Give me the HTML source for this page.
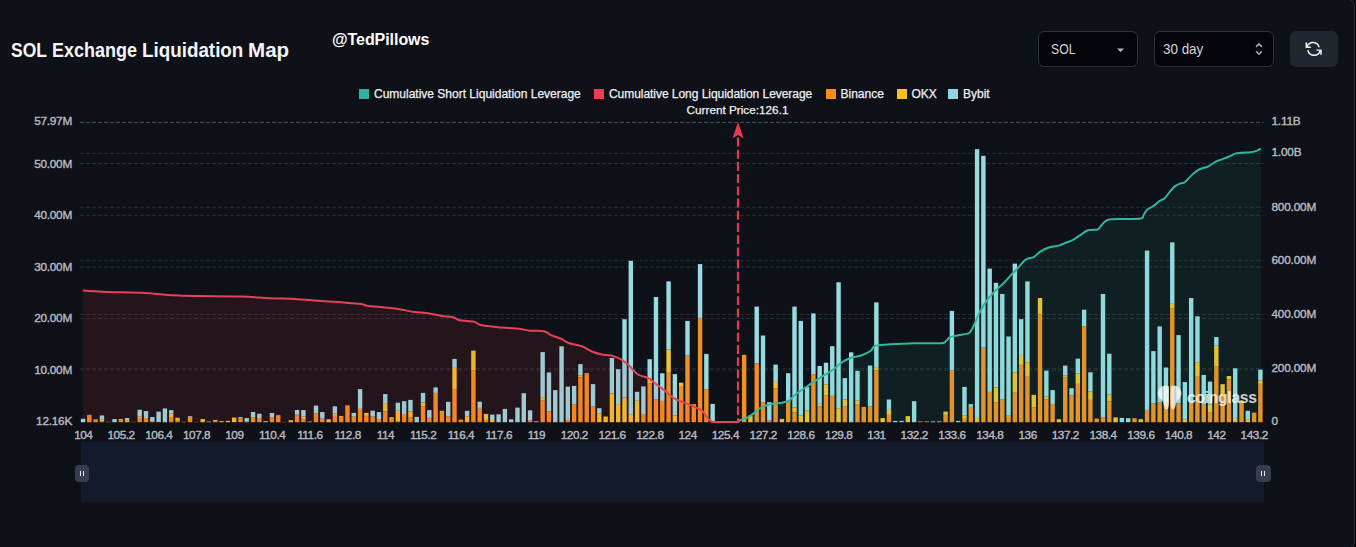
<!DOCTYPE html>
<html><head><meta charset="utf-8"><title>SOL Exchange Liquidation Map</title>
<style>
html,body{margin:0;padding:0;background:#0e1118;}
body{width:1356px;height:547px;overflow:hidden;position:relative;font-family:"Liberation Sans",sans-serif;color:#fff;}
#panel{position:absolute;left:-20px;top:-1.2px;width:1375.1px;height:549.6px;border:1.25px solid #2c303b;border-radius:7px 6.5px 4.5px 7px;box-sizing:border-box;background:#0e1118;}
#outer{position:absolute;left:1345px;top:0;width:11px;height:547px;background:#010105;}
.title{position:absolute;left:11px;top:38.2px;font-size:19.6px;font-weight:bold;line-height:24px;color:#f4f5f7;white-space:nowrap;}
.title span{position:absolute;top:0;transform-origin:0 50%;}
.handle{position:absolute;left:332px;top:30px;font-size:16px;font-weight:bold;line-height:20px;color:#fff;white-space:nowrap;letter-spacing:-0.06px;}
.sel{position:absolute;top:31px;height:36px;box-sizing:border-box;border:1px solid #2e323d;border-radius:6px;background:#04050a;color:#d3d6dd;font-size:14.2px;line-height:35px;}
.btn{position:absolute;left:1290px;top:31px;width:48px;height:36px;border-radius:6px;background:#22262f;}
.lg{position:absolute;top:87px;height:14px;line-height:14px;font-size:12px;color:#eef0f3;white-space:nowrap;-webkit-text-stroke:0.25px #eef0f3;}
.sq{position:absolute;top:89px;width:10px;height:10px;}
.xl{position:absolute;top:427.8px;width:60px;text-align:center;font-size:11.8px;line-height:15px;color:#b6b9c0;-webkit-text-stroke:0.4px #b6b9c0;letter-spacing:-0.45px;}
.yl{position:absolute;left:0;width:72px;text-align:right;font-size:11.8px;line-height:15px;color:#b6b9c0;-webkit-text-stroke:0.4px #b6b9c0;letter-spacing:-0.25px;}
.yr{position:absolute;left:1271.5px;text-align:left;font-size:11.8px;line-height:15px;color:#b6b9c0;-webkit-text-stroke:0.4px #b6b9c0;letter-spacing:-0.2px;}
.cp{position:absolute;left:637.5px;width:200px;top:103px;text-align:center;font-size:11.75px;line-height:14px;color:#eef0f3;-webkit-text-stroke:0.25px #eef0f3;}
.slider{position:absolute;left:81px;top:442px;width:1183px;height:60px;background:#121a2c;}
.hd{position:absolute;top:464.5px;width:14.5px;height:17px;border-radius:4px;background:#383d50;}
.hd i{position:absolute;top:6px;width:1px;height:5px;background:#e8eaf0;}
.wm{position:absolute;left:1187px;top:387.8px;font-size:15.7px;line-height:20px;font-weight:bold;color:rgba(255,255,255,0.8);letter-spacing:-0.3px;}
</style></head><body>
<div id="outer"></div><div id="panel"></div>
<svg width="1356" height="547" viewBox="0 0 1356 547" style="position:absolute;left:0;top:0"><line x1="80" x2="1263.5" y1="153.4" y2="153.4" stroke="#242832" stroke-width="1" stroke-dasharray="4 2"/><line x1="80" x2="1263.5" y1="207.3" y2="207.3" stroke="#242832" stroke-width="1" stroke-dasharray="4 2"/><line x1="80" x2="1263.5" y1="260.6" y2="260.6" stroke="#242832" stroke-width="1" stroke-dasharray="4 2"/><line x1="80" x2="1263.5" y1="314.5" y2="314.5" stroke="#242832" stroke-width="1" stroke-dasharray="4 2"/><line x1="80" x2="1263.5" y1="368.4" y2="368.4" stroke="#242832" stroke-width="1" stroke-dasharray="4 2"/><line x1="80" x2="1263.5" y1="122.4" y2="122.4" stroke="#4e525c" stroke-width="1" stroke-dasharray="4 2"/><line x1="80" x2="1263.5" y1="163.5" y2="163.5" stroke="#292d37" stroke-width="1" stroke-dasharray="4 2"/><line x1="80" x2="1263.5" y1="215.3" y2="215.3" stroke="#292d37" stroke-width="1" stroke-dasharray="4 2"/><line x1="80" x2="1263.5" y1="266.9" y2="266.9" stroke="#292d37" stroke-width="1" stroke-dasharray="4 2"/><line x1="80" x2="1263.5" y1="318.5" y2="318.5" stroke="#292d37" stroke-width="1" stroke-dasharray="4 2"/><line x1="80" x2="1263.5" y1="370.1" y2="370.1" stroke="#292d37" stroke-width="1" stroke-dasharray="4 2"/><rect x="80.85" y="418.75" width="4.4" height="3.45" fill="#97dce2"/><rect x="87.15" y="414.85" width="4.4" height="7.35" fill="#f39022"/><rect x="93.44" y="419.35" width="4.4" height="2.85" fill="#f39022"/><rect x="99.74" y="421.35" width="4.4" height="0.85" fill="#f39022"/><rect x="99.74" y="419.85" width="4.4" height="1.50" fill="#f3c42c"/><rect x="99.74" y="415.45" width="4.4" height="4.40" fill="#97dce2"/><rect x="106.03" y="421.85" width="4.4" height="0.35" fill="#f39022"/><rect x="112.33" y="419.05" width="4.4" height="3.15" fill="#97dce2"/><rect x="118.63" y="420.35" width="4.4" height="1.85" fill="#f39022"/><rect x="118.63" y="419.05" width="4.4" height="1.30" fill="#f3c42c"/><rect x="124.92" y="420.35" width="4.4" height="1.85" fill="#f3c42c"/><rect x="124.92" y="418.05" width="4.4" height="2.30" fill="#97dce2"/><rect x="131.22" y="421.95" width="4.4" height="0.25" fill="#f39022"/><rect x="137.51" y="418.75" width="4.4" height="3.45" fill="#f39022"/><rect x="137.51" y="416.65" width="4.4" height="2.10" fill="#f3c42c"/><rect x="137.51" y="409.75" width="4.4" height="6.90" fill="#97dce2"/><rect x="143.81" y="418.05" width="4.4" height="4.15" fill="#f39022"/><rect x="143.81" y="411.05" width="4.4" height="7.00" fill="#97dce2"/><rect x="150.11" y="421.35" width="4.4" height="0.85" fill="#f3c42c"/><rect x="150.11" y="417.05" width="4.4" height="4.30" fill="#97dce2"/><rect x="156.40" y="421.85" width="4.4" height="0.35" fill="#f3c42c"/><rect x="156.40" y="411.65" width="4.4" height="10.20" fill="#97dce2"/><rect x="162.70" y="408.45" width="4.4" height="13.75" fill="#97dce2"/><rect x="168.99" y="417.05" width="4.4" height="5.15" fill="#f39022"/><rect x="168.99" y="413.75" width="4.4" height="3.30" fill="#f3c42c"/><rect x="168.99" y="410.15" width="4.4" height="3.60" fill="#97dce2"/><rect x="175.29" y="420.85" width="4.4" height="1.35" fill="#f39022"/><rect x="175.29" y="417.75" width="4.4" height="3.10" fill="#f3c42c"/><rect x="181.59" y="421.85" width="4.4" height="0.35" fill="#f3c42c"/><rect x="187.88" y="417.85" width="4.4" height="4.35" fill="#f39022"/><rect x="187.88" y="416.85" width="4.4" height="1.00" fill="#f3c42c"/><rect x="187.88" y="416.15" width="4.4" height="0.70" fill="#97dce2"/><rect x="194.18" y="421.95" width="4.4" height="0.25" fill="#f39022"/><rect x="200.47" y="419.05" width="4.4" height="3.15" fill="#f3c42c"/><rect x="206.77" y="421.55" width="4.4" height="0.65" fill="#97dce2"/><rect x="213.07" y="420.95" width="4.4" height="1.25" fill="#f39022"/><rect x="213.07" y="419.95" width="4.4" height="1.00" fill="#f3c42c"/><rect x="219.36" y="421.15" width="4.4" height="1.05" fill="#f3c42c"/><rect x="225.66" y="420.85" width="4.4" height="1.35" fill="#f3c42c"/><rect x="231.95" y="417.55" width="4.4" height="4.65" fill="#f3c42c"/><rect x="238.25" y="418.35" width="4.4" height="3.85" fill="#f39022"/><rect x="238.25" y="417.05" width="4.4" height="1.30" fill="#97dce2"/><rect x="244.55" y="421.35" width="4.4" height="0.85" fill="#f3c42c"/><rect x="244.55" y="418.05" width="4.4" height="3.30" fill="#97dce2"/><rect x="250.84" y="417.55" width="4.4" height="4.65" fill="#f39022"/><rect x="250.84" y="411.95" width="4.4" height="5.60" fill="#97dce2"/><rect x="257.14" y="418.05" width="4.4" height="4.15" fill="#f39022"/><rect x="257.14" y="413.75" width="4.4" height="4.30" fill="#97dce2"/><rect x="263.43" y="421.15" width="4.4" height="1.05" fill="#f3c42c"/><rect x="269.73" y="417.55" width="4.4" height="4.65" fill="#f39022"/><rect x="269.73" y="412.95" width="4.4" height="4.60" fill="#97dce2"/><rect x="276.03" y="415.15" width="4.4" height="7.05" fill="#f39022"/><rect x="282.32" y="421.95" width="4.4" height="0.25" fill="#f39022"/><rect x="288.62" y="420.25" width="4.4" height="1.95" fill="#f3c42c"/><rect x="294.91" y="415.65" width="4.4" height="6.55" fill="#f39022"/><rect x="294.91" y="414.25" width="4.4" height="1.40" fill="#f3c42c"/><rect x="294.91" y="409.95" width="4.4" height="4.30" fill="#97dce2"/><rect x="301.21" y="419.35" width="4.4" height="2.85" fill="#f39022"/><rect x="301.21" y="416.55" width="4.4" height="2.80" fill="#f3c42c"/><rect x="301.21" y="410.05" width="4.4" height="6.50" fill="#97dce2"/><rect x="307.51" y="421.55" width="4.4" height="0.65" fill="#97dce2"/><rect x="313.80" y="413.25" width="4.4" height="8.95" fill="#f39022"/><rect x="313.80" y="405.55" width="4.4" height="7.70" fill="#97dce2"/><rect x="320.10" y="418.55" width="4.4" height="3.65" fill="#f39022"/><rect x="320.10" y="412.05" width="4.4" height="6.50" fill="#97dce2"/><rect x="326.39" y="419.25" width="4.4" height="2.95" fill="#f3c42c"/><rect x="332.69" y="415.90" width="4.4" height="6.30" fill="#f39022"/><rect x="332.69" y="413.30" width="4.4" height="2.60" fill="#f3c42c"/><rect x="332.69" y="406.30" width="4.4" height="7.00" fill="#97dce2"/><rect x="338.99" y="416.90" width="4.4" height="5.30" fill="#f39022"/><rect x="338.99" y="415.90" width="4.4" height="1.00" fill="#f3c42c"/><rect x="345.28" y="405.30" width="4.4" height="16.90" fill="#f39022"/><rect x="351.58" y="417.80" width="4.4" height="4.40" fill="#f39022"/><rect x="351.58" y="416.50" width="4.4" height="1.30" fill="#f3c42c"/><rect x="351.58" y="412.90" width="4.4" height="3.60" fill="#97dce2"/><rect x="357.87" y="408.90" width="4.4" height="13.30" fill="#f39022"/><rect x="357.87" y="389.10" width="4.4" height="19.80" fill="#97dce2"/><rect x="364.17" y="415.90" width="4.4" height="6.30" fill="#f39022"/><rect x="364.17" y="412.90" width="4.4" height="3.00" fill="#f3c42c"/><rect x="370.47" y="416.50" width="4.4" height="5.70" fill="#f39022"/><rect x="370.47" y="410.70" width="4.4" height="5.80" fill="#97dce2"/><rect x="376.76" y="419.10" width="4.4" height="3.10" fill="#f39022"/><rect x="376.76" y="412.10" width="4.4" height="7.00" fill="#97dce2"/><rect x="383.06" y="411.40" width="4.4" height="10.80" fill="#f39022"/><rect x="383.06" y="403.10" width="4.4" height="8.30" fill="#f3c42c"/><rect x="383.06" y="394.10" width="4.4" height="9.00" fill="#97dce2"/><rect x="389.35" y="418.90" width="4.4" height="3.30" fill="#f39022"/><rect x="389.35" y="417.20" width="4.4" height="1.70" fill="#f3c42c"/><rect x="395.65" y="421.40" width="4.4" height="0.80" fill="#f39022"/><rect x="395.65" y="410.80" width="4.4" height="10.60" fill="#f3c42c"/><rect x="395.65" y="402.70" width="4.4" height="8.10" fill="#97dce2"/><rect x="401.95" y="414.00" width="4.4" height="8.20" fill="#f39022"/><rect x="401.95" y="401.20" width="4.4" height="12.80" fill="#97dce2"/><rect x="408.24" y="417.20" width="4.4" height="5.00" fill="#f39022"/><rect x="408.24" y="411.40" width="4.4" height="5.80" fill="#f3c42c"/><rect x="408.24" y="399.90" width="4.4" height="11.50" fill="#97dce2"/><rect x="414.54" y="416.90" width="4.4" height="5.30" fill="#97dce2"/><rect x="420.83" y="406.30" width="4.4" height="15.90" fill="#f39022"/><rect x="420.83" y="402.50" width="4.4" height="3.80" fill="#f3c42c"/><rect x="420.83" y="392.90" width="4.4" height="9.60" fill="#97dce2"/><rect x="427.13" y="417.80" width="4.4" height="4.40" fill="#f39022"/><rect x="427.13" y="410.10" width="4.4" height="7.70" fill="#97dce2"/><rect x="433.43" y="392.90" width="4.4" height="29.30" fill="#f39022"/><rect x="433.43" y="387.40" width="4.4" height="5.50" fill="#97dce2"/><rect x="439.72" y="411.90" width="4.4" height="10.30" fill="#f39022"/><rect x="439.72" y="410.80" width="4.4" height="1.10" fill="#f3c42c"/><rect x="446.02" y="416.30" width="4.4" height="5.90" fill="#f39022"/><rect x="446.02" y="401.80" width="4.4" height="14.50" fill="#97dce2"/><rect x="452.31" y="389.00" width="4.4" height="33.20" fill="#f39022"/><rect x="452.31" y="367.90" width="4.4" height="21.10" fill="#f3c42c"/><rect x="452.31" y="358.90" width="4.4" height="9.00" fill="#97dce2"/><rect x="458.61" y="419.60" width="4.4" height="2.60" fill="#f39022"/><rect x="464.91" y="416.20" width="4.4" height="6.00" fill="#f3c42c"/><rect x="464.91" y="410.80" width="4.4" height="5.40" fill="#97dce2"/><rect x="471.20" y="370.30" width="4.4" height="51.90" fill="#f39022"/><rect x="471.20" y="350.60" width="4.4" height="19.70" fill="#f3c42c"/><rect x="477.50" y="407.90" width="4.4" height="14.30" fill="#f39022"/><rect x="477.50" y="401.70" width="4.4" height="6.20" fill="#97dce2"/><rect x="483.79" y="419.90" width="4.4" height="2.30" fill="#f39022"/><rect x="483.79" y="413.90" width="4.4" height="6.00" fill="#f3c42c"/><rect x="490.09" y="420.00" width="4.4" height="2.20" fill="#f3c42c"/><rect x="490.09" y="414.60" width="4.4" height="5.40" fill="#97dce2"/><rect x="496.39" y="414.30" width="4.4" height="7.90" fill="#97dce2"/><rect x="502.68" y="408.90" width="4.4" height="13.30" fill="#97dce2"/><rect x="508.98" y="419.30" width="4.4" height="2.90" fill="#97dce2"/><rect x="515.27" y="407.60" width="4.4" height="14.60" fill="#97dce2"/><rect x="521.57" y="393.20" width="4.4" height="29.00" fill="#97dce2"/><rect x="527.87" y="420.40" width="4.4" height="1.80" fill="#f39022"/><rect x="527.87" y="410.30" width="4.4" height="10.10" fill="#97dce2"/><rect x="534.16" y="421.10" width="4.4" height="1.10" fill="#f39022"/><rect x="540.46" y="400.60" width="4.4" height="21.60" fill="#f39022"/><rect x="540.46" y="397.80" width="4.4" height="2.80" fill="#f3c42c"/><rect x="540.46" y="352.10" width="4.4" height="45.70" fill="#97dce2"/><rect x="546.75" y="411.20" width="4.4" height="11.00" fill="#f39022"/><rect x="546.75" y="372.40" width="4.4" height="38.80" fill="#97dce2"/><rect x="553.05" y="390.10" width="4.4" height="32.10" fill="#97dce2"/><rect x="559.35" y="346.30" width="4.4" height="75.90" fill="#97dce2"/><rect x="565.64" y="419.90" width="4.4" height="2.30" fill="#f39022"/><rect x="565.64" y="386.60" width="4.4" height="33.30" fill="#97dce2"/><rect x="571.94" y="404.50" width="4.4" height="17.70" fill="#f39022"/><rect x="571.94" y="385.90" width="4.4" height="18.60" fill="#97dce2"/><rect x="578.23" y="377.30" width="4.4" height="44.90" fill="#f39022"/><rect x="578.23" y="375.40" width="4.4" height="1.90" fill="#f3c42c"/><rect x="578.23" y="364.10" width="4.4" height="11.30" fill="#97dce2"/><rect x="584.53" y="374.20" width="4.4" height="48.00" fill="#f39022"/><rect x="584.53" y="373.20" width="4.4" height="1.00" fill="#f3c42c"/><rect x="590.83" y="406.60" width="4.4" height="15.60" fill="#f39022"/><rect x="590.83" y="384.10" width="4.4" height="22.50" fill="#97dce2"/><rect x="597.12" y="413.20" width="4.4" height="9.00" fill="#f3c42c"/><rect x="597.12" y="408.20" width="4.4" height="5.00" fill="#97dce2"/><rect x="603.42" y="416.50" width="4.4" height="5.70" fill="#f3c42c"/><rect x="609.71" y="393.40" width="4.4" height="28.80" fill="#f3c42c"/><rect x="609.71" y="358.00" width="4.4" height="35.40" fill="#97dce2"/><rect x="616.01" y="404.10" width="4.4" height="18.10" fill="#f3c42c"/><rect x="616.01" y="369.20" width="4.4" height="34.90" fill="#97dce2"/><rect x="622.31" y="397.50" width="4.4" height="24.70" fill="#f3c42c"/><rect x="622.31" y="319.20" width="4.4" height="78.30" fill="#97dce2"/><rect x="628.60" y="414.80" width="4.4" height="7.40" fill="#f3c42c"/><rect x="628.60" y="260.80" width="4.4" height="154.00" fill="#97dce2"/><rect x="634.90" y="400.80" width="4.4" height="21.40" fill="#f3c42c"/><rect x="634.90" y="391.80" width="4.4" height="9.00" fill="#97dce2"/><rect x="641.19" y="414.00" width="4.4" height="8.20" fill="#f39022"/><rect x="641.19" y="386.40" width="4.4" height="27.60" fill="#97dce2"/><rect x="647.49" y="383.60" width="4.4" height="38.60" fill="#f39022"/><rect x="647.49" y="378.60" width="4.4" height="5.00" fill="#f3c42c"/><rect x="647.49" y="359.20" width="4.4" height="19.40" fill="#97dce2"/><rect x="653.79" y="399.20" width="4.4" height="23.00" fill="#f39022"/><rect x="653.79" y="297.00" width="4.4" height="102.20" fill="#97dce2"/><rect x="660.08" y="400.90" width="4.4" height="21.30" fill="#f39022"/><rect x="660.08" y="373.30" width="4.4" height="27.60" fill="#97dce2"/><rect x="666.38" y="372.00" width="4.4" height="50.20" fill="#f39022"/><rect x="666.38" y="349.50" width="4.4" height="22.50" fill="#f3c42c"/><rect x="666.38" y="281.40" width="4.4" height="68.10" fill="#97dce2"/><rect x="672.67" y="415.60" width="4.4" height="6.60" fill="#f3c42c"/><rect x="672.67" y="374.10" width="4.4" height="41.50" fill="#97dce2"/><rect x="678.97" y="386.00" width="4.4" height="36.20" fill="#f39022"/><rect x="678.97" y="382.70" width="4.4" height="3.30" fill="#f3c42c"/><rect x="685.27" y="355.60" width="4.4" height="66.60" fill="#f39022"/><rect x="685.27" y="320.90" width="4.4" height="34.70" fill="#97dce2"/><rect x="691.56" y="404.10" width="4.4" height="18.10" fill="#f39022"/><rect x="697.86" y="317.90" width="4.4" height="104.30" fill="#f39022"/><rect x="697.86" y="264.10" width="4.4" height="53.80" fill="#97dce2"/><rect x="704.15" y="389.30" width="4.4" height="32.90" fill="#f39022"/><rect x="704.15" y="353.90" width="4.4" height="35.40" fill="#97dce2"/><rect x="710.45" y="403.90" width="4.4" height="18.30" fill="#97dce2"/><rect x="741.93" y="354.80" width="4.4" height="67.40" fill="#f39022"/><rect x="748.23" y="415.60" width="4.4" height="6.60" fill="#f3c42c"/><rect x="754.52" y="363.30" width="4.4" height="58.90" fill="#f39022"/><rect x="754.52" y="306.60" width="4.4" height="56.70" fill="#97dce2"/><rect x="760.82" y="402.20" width="4.4" height="20.00" fill="#f39022"/><rect x="760.82" y="335.50" width="4.4" height="66.70" fill="#97dce2"/><rect x="767.11" y="420.40" width="4.4" height="1.80" fill="#f39022"/><rect x="767.11" y="402.20" width="4.4" height="18.20" fill="#97dce2"/><rect x="773.41" y="388.50" width="4.4" height="33.70" fill="#f39022"/><rect x="773.41" y="381.90" width="4.4" height="6.60" fill="#f3c42c"/><rect x="773.41" y="364.60" width="4.4" height="17.30" fill="#97dce2"/><rect x="779.71" y="418.90" width="4.4" height="3.30" fill="#f3c42c"/><rect x="786.00" y="402.50" width="4.4" height="19.70" fill="#f39022"/><rect x="786.00" y="373.20" width="4.4" height="29.30" fill="#97dce2"/><rect x="792.30" y="412.40" width="4.4" height="9.80" fill="#f39022"/><rect x="792.30" y="407.50" width="4.4" height="4.90" fill="#f3c42c"/><rect x="792.30" y="306.60" width="4.4" height="100.90" fill="#97dce2"/><rect x="798.59" y="415.60" width="4.4" height="6.60" fill="#f3c42c"/><rect x="798.59" y="320.90" width="4.4" height="94.70" fill="#97dce2"/><rect x="804.89" y="410.60" width="4.4" height="11.60" fill="#f3c42c"/><rect x="804.89" y="387.20" width="4.4" height="23.40" fill="#97dce2"/><rect x="811.19" y="374.20" width="4.4" height="48.00" fill="#f39022"/><rect x="811.19" y="313.40" width="4.4" height="60.80" fill="#97dce2"/><rect x="817.48" y="406.60" width="4.4" height="15.60" fill="#f39022"/><rect x="817.48" y="403.80" width="4.4" height="2.80" fill="#f3c42c"/><rect x="817.48" y="366.00" width="4.4" height="37.80" fill="#97dce2"/><rect x="823.78" y="395.10" width="4.4" height="27.10" fill="#f39022"/><rect x="823.78" y="384.40" width="4.4" height="10.70" fill="#f3c42c"/><rect x="823.78" y="362.70" width="4.4" height="21.70" fill="#97dce2"/><rect x="830.07" y="395.90" width="4.4" height="26.30" fill="#f39022"/><rect x="830.07" y="346.20" width="4.4" height="49.70" fill="#97dce2"/><rect x="836.37" y="408.20" width="4.4" height="14.00" fill="#f3c42c"/><rect x="836.37" y="282.30" width="4.4" height="125.90" fill="#97dce2"/><rect x="842.67" y="406.60" width="4.4" height="15.60" fill="#f39022"/><rect x="842.67" y="399.50" width="4.4" height="7.10" fill="#f3c42c"/><rect x="842.67" y="378.10" width="4.4" height="21.40" fill="#97dce2"/><rect x="848.96" y="352.30" width="4.4" height="69.90" fill="#97dce2"/><rect x="855.26" y="404.10" width="4.4" height="18.10" fill="#f39022"/><rect x="855.26" y="400.80" width="4.4" height="3.30" fill="#f3c42c"/><rect x="855.26" y="370.80" width="4.4" height="30.00" fill="#97dce2"/><rect x="861.55" y="406.90" width="4.4" height="15.30" fill="#f39022"/><rect x="867.85" y="406.60" width="4.4" height="15.60" fill="#f39022"/><rect x="867.85" y="365.50" width="4.4" height="41.10" fill="#97dce2"/><rect x="874.15" y="370.40" width="4.4" height="51.80" fill="#f39022"/><rect x="874.15" y="367.10" width="4.4" height="3.30" fill="#f3c42c"/><rect x="874.15" y="302.40" width="4.4" height="64.70" fill="#97dce2"/><rect x="880.44" y="418.10" width="4.4" height="4.10" fill="#f3c42c"/><rect x="886.74" y="414.90" width="4.4" height="7.30" fill="#f39022"/><rect x="886.74" y="409.90" width="4.4" height="5.00" fill="#f3c42c"/><rect x="886.74" y="399.50" width="4.4" height="10.40" fill="#97dce2"/><rect x="893.03" y="420.90" width="4.4" height="1.30" fill="#97dce2"/><rect x="899.33" y="420.90" width="4.4" height="1.30" fill="#97dce2"/><rect x="905.63" y="416.10" width="4.4" height="6.10" fill="#f3c42c"/><rect x="911.92" y="401.20" width="4.4" height="21.00" fill="#97dce2"/><rect x="918.22" y="421.40" width="4.4" height="0.80" fill="#f39022"/><rect x="924.51" y="421.40" width="4.4" height="0.80" fill="#f39022"/><rect x="930.81" y="421.40" width="4.4" height="0.80" fill="#97dce2"/><rect x="937.11" y="421.40" width="4.4" height="0.80" fill="#97dce2"/><rect x="943.40" y="414.90" width="4.4" height="7.30" fill="#f39022"/><rect x="943.40" y="411.60" width="4.4" height="3.30" fill="#f3c42c"/><rect x="949.70" y="370.40" width="4.4" height="51.80" fill="#f39022"/><rect x="949.70" y="310.90" width="4.4" height="59.50" fill="#97dce2"/><rect x="955.99" y="420.90" width="4.4" height="1.30" fill="#97dce2"/><rect x="962.29" y="418.90" width="4.4" height="3.30" fill="#f39022"/><rect x="962.29" y="415.30" width="4.4" height="3.60" fill="#f3c42c"/><rect x="962.29" y="386.90" width="4.4" height="28.40" fill="#97dce2"/><rect x="968.59" y="406.90" width="4.4" height="15.30" fill="#f39022"/><rect x="968.59" y="404.20" width="4.4" height="2.70" fill="#97dce2"/><rect x="974.88" y="417.90" width="4.4" height="4.30" fill="#f3c42c"/><rect x="974.88" y="149.20" width="4.4" height="268.70" fill="#97dce2"/><rect x="981.18" y="347.60" width="4.4" height="74.60" fill="#f39022"/><rect x="981.18" y="155.80" width="4.4" height="191.80" fill="#97dce2"/><rect x="987.47" y="391.90" width="4.4" height="30.30" fill="#f39022"/><rect x="987.47" y="268.60" width="4.4" height="123.30" fill="#97dce2"/><rect x="993.77" y="402.50" width="4.4" height="19.70" fill="#f39022"/><rect x="993.77" y="387.40" width="4.4" height="15.10" fill="#f3c42c"/><rect x="993.77" y="282.80" width="4.4" height="104.60" fill="#97dce2"/><rect x="1000.07" y="399.30" width="4.4" height="22.90" fill="#f39022"/><rect x="1000.07" y="294.00" width="4.4" height="105.30" fill="#97dce2"/><rect x="1006.36" y="416.90" width="4.4" height="5.30" fill="#f39022"/><rect x="1006.36" y="415.30" width="4.4" height="1.60" fill="#f3c42c"/><rect x="1006.36" y="336.50" width="4.4" height="78.80" fill="#97dce2"/><rect x="1012.66" y="392.70" width="4.4" height="29.50" fill="#f39022"/><rect x="1012.66" y="372.30" width="4.4" height="20.40" fill="#f3c42c"/><rect x="1012.66" y="263.60" width="4.4" height="108.70" fill="#97dce2"/><rect x="1018.95" y="364.90" width="4.4" height="57.30" fill="#f39022"/><rect x="1018.95" y="354.90" width="4.4" height="10.00" fill="#f3c42c"/><rect x="1018.95" y="319.10" width="4.4" height="35.80" fill="#97dce2"/><rect x="1025.25" y="376.80" width="4.4" height="45.40" fill="#f39022"/><rect x="1025.25" y="362.20" width="4.4" height="14.60" fill="#f3c42c"/><rect x="1025.25" y="281.40" width="4.4" height="80.80" fill="#97dce2"/><rect x="1031.55" y="407.30" width="4.4" height="14.90" fill="#f39022"/><rect x="1031.55" y="394.80" width="4.4" height="12.50" fill="#f3c42c"/><rect x="1037.84" y="314.40" width="4.4" height="107.80" fill="#f39022"/><rect x="1037.84" y="298.00" width="4.4" height="16.40" fill="#f3c42c"/><rect x="1044.14" y="399.30" width="4.4" height="22.90" fill="#f39022"/><rect x="1044.14" y="396.60" width="4.4" height="2.70" fill="#f3c42c"/><rect x="1044.14" y="370.60" width="4.4" height="26.00" fill="#97dce2"/><rect x="1050.43" y="404.10" width="4.4" height="18.10" fill="#f39022"/><rect x="1050.43" y="390.10" width="4.4" height="14.00" fill="#97dce2"/><rect x="1056.73" y="419.20" width="4.4" height="3.00" fill="#f3c42c"/><rect x="1063.03" y="377.60" width="4.4" height="44.60" fill="#f39022"/><rect x="1063.03" y="375.60" width="4.4" height="2.00" fill="#f3c42c"/><rect x="1063.03" y="365.60" width="4.4" height="10.00" fill="#97dce2"/><rect x="1069.32" y="395.40" width="4.4" height="26.80" fill="#f39022"/><rect x="1069.32" y="388.20" width="4.4" height="7.20" fill="#97dce2"/><rect x="1075.62" y="383.90" width="4.4" height="38.30" fill="#f39022"/><rect x="1075.62" y="373.30" width="4.4" height="10.60" fill="#f3c42c"/><rect x="1075.62" y="358.70" width="4.4" height="14.60" fill="#97dce2"/><rect x="1081.91" y="326.40" width="4.4" height="95.80" fill="#f39022"/><rect x="1081.91" y="309.70" width="4.4" height="16.70" fill="#97dce2"/><rect x="1088.21" y="399.90" width="4.4" height="22.30" fill="#f39022"/><rect x="1088.21" y="391.40" width="4.4" height="8.50" fill="#f3c42c"/><rect x="1088.21" y="372.30" width="4.4" height="19.10" fill="#97dce2"/><rect x="1094.51" y="418.50" width="4.4" height="3.70" fill="#f39022"/><rect x="1100.80" y="417.10" width="4.4" height="5.10" fill="#f39022"/><rect x="1100.80" y="294.00" width="4.4" height="123.10" fill="#97dce2"/><rect x="1107.10" y="401.50" width="4.4" height="20.70" fill="#f39022"/><rect x="1107.10" y="394.60" width="4.4" height="6.90" fill="#f3c42c"/><rect x="1107.10" y="353.70" width="4.4" height="40.90" fill="#97dce2"/><rect x="1113.39" y="417.40" width="4.4" height="4.80" fill="#f3c42c"/><rect x="1119.69" y="417.90" width="4.4" height="4.30" fill="#97dce2"/><rect x="1125.99" y="418.20" width="4.4" height="4.00" fill="#97dce2"/><rect x="1132.28" y="418.20" width="4.4" height="4.00" fill="#f39022"/><rect x="1138.58" y="419.20" width="4.4" height="3.00" fill="#f3c42c"/><rect x="1144.87" y="409.90" width="4.4" height="12.30" fill="#f39022"/><rect x="1144.87" y="250.60" width="4.4" height="159.30" fill="#97dce2"/><rect x="1151.17" y="403.30" width="4.4" height="18.90" fill="#f39022"/><rect x="1151.17" y="351.10" width="4.4" height="52.20" fill="#97dce2"/><rect x="1157.47" y="402.50" width="4.4" height="19.70" fill="#f39022"/><rect x="1157.47" y="326.40" width="4.4" height="76.10" fill="#97dce2"/><rect x="1163.76" y="402.00" width="4.4" height="20.20" fill="#f39022"/><rect x="1163.76" y="367.50" width="4.4" height="34.50" fill="#97dce2"/><rect x="1170.06" y="308.60" width="4.4" height="113.60" fill="#f39022"/><rect x="1170.06" y="303.80" width="4.4" height="4.80" fill="#f3c42c"/><rect x="1170.06" y="242.40" width="4.4" height="61.40" fill="#97dce2"/><rect x="1176.35" y="403.30" width="4.4" height="18.90" fill="#f39022"/><rect x="1176.35" y="335.10" width="4.4" height="68.20" fill="#97dce2"/><rect x="1182.65" y="419.20" width="4.4" height="3.00" fill="#f3c42c"/><rect x="1182.65" y="382.10" width="4.4" height="37.10" fill="#97dce2"/><rect x="1188.95" y="402.50" width="4.4" height="19.70" fill="#f39022"/><rect x="1188.95" y="298.00" width="4.4" height="104.50" fill="#97dce2"/><rect x="1195.24" y="376.80" width="4.4" height="45.40" fill="#f39022"/><rect x="1195.24" y="362.20" width="4.4" height="14.60" fill="#f3c42c"/><rect x="1195.24" y="316.30" width="4.4" height="45.90" fill="#97dce2"/><rect x="1201.54" y="404.10" width="4.4" height="18.10" fill="#f39022"/><rect x="1201.54" y="374.90" width="4.4" height="29.20" fill="#97dce2"/><rect x="1207.83" y="412.10" width="4.4" height="10.10" fill="#f39022"/><rect x="1207.83" y="404.70" width="4.4" height="7.40" fill="#f3c42c"/><rect x="1207.83" y="381.60" width="4.4" height="23.10" fill="#97dce2"/><rect x="1214.13" y="366.20" width="4.4" height="56.00" fill="#f39022"/><rect x="1214.13" y="345.80" width="4.4" height="20.40" fill="#f3c42c"/><rect x="1214.13" y="337.00" width="4.4" height="8.80" fill="#97dce2"/><rect x="1220.43" y="394.00" width="4.4" height="28.20" fill="#f39022"/><rect x="1220.43" y="384.20" width="4.4" height="9.80" fill="#f3c42c"/><rect x="1226.72" y="379.40" width="4.4" height="42.80" fill="#f39022"/><rect x="1226.72" y="376.00" width="4.4" height="3.40" fill="#f3c42c"/><rect x="1233.02" y="417.90" width="4.4" height="4.30" fill="#f3c42c"/><rect x="1233.02" y="368.30" width="4.4" height="49.60" fill="#97dce2"/><rect x="1239.31" y="400.70" width="4.4" height="21.50" fill="#f39022"/><rect x="1245.61" y="419.20" width="4.4" height="3.00" fill="#f3c42c"/><rect x="1245.61" y="410.80" width="4.4" height="8.40" fill="#97dce2"/><rect x="1251.91" y="412.60" width="4.4" height="9.60" fill="#f39022"/><rect x="1258.20" y="383.90" width="4.4" height="38.30" fill="#f39022"/><rect x="1258.20" y="380.20" width="4.4" height="3.70" fill="#f3c42c"/><rect x="1258.20" y="369.60" width="4.4" height="10.60" fill="#97dce2"/><path d="M83.6 290.6 C87.5 290.8 97.2 291.5 106.8 291.9 C116.4 292.2 130.1 292.1 141.3 292.7 C152.5 293.3 164.6 294.7 173.9 295.3 C183.2 295.9 185.7 295.9 196.9 296.1 C208.1 296.3 228.8 296.1 241.0 296.5 C253.2 296.9 260.9 297.8 269.8 298.2 C278.8 298.6 286.7 298.6 294.7 299.0 C302.7 299.4 310.5 300.2 317.7 300.7 C324.9 301.2 330.8 301.6 338.0 302.1 C345.2 302.7 356.2 303.4 361.0 304.0 C365.8 304.6 362.7 305.1 366.8 305.7 C370.9 306.3 380.5 307.0 385.9 307.6 C391.3 308.2 394.6 308.4 399.4 309.2 C404.2 309.9 410.2 311.5 414.7 312.1 C419.2 312.7 421.7 312.4 426.2 313.0 C430.7 313.6 437.0 315.2 441.5 315.9 C446.0 316.6 450.1 316.5 453.1 317.2 C456.2 317.9 456.3 319.6 459.8 320.3 C463.3 321.0 470.6 320.8 474.1 321.6 C477.6 322.4 476.4 324.1 480.9 325.1 C485.4 326.1 494.4 326.8 501.0 327.4 C507.6 328.0 515.4 328.3 520.2 328.9 C525.0 329.4 525.7 330.3 529.7 330.7 C533.7 331.1 540.6 330.5 544.1 331.2 C547.6 331.9 547.9 333.8 550.8 335.1 C553.7 336.4 558.5 337.6 561.4 338.9 C564.3 340.2 565.1 341.6 568.1 342.7 C571.1 343.8 577.0 344.9 579.6 345.6 C582.2 346.4 582.0 346.2 584.0 347.2 C586.0 348.2 588.9 350.3 591.9 351.5 C594.9 352.7 598.4 353.7 601.7 354.4 C605.0 355.1 608.3 354.7 611.6 355.6 C614.9 356.5 618.5 357.9 621.5 359.7 C624.5 361.5 627.0 363.8 629.7 366.3 C632.4 368.8 634.9 372.6 637.9 374.5 C640.9 376.4 645.0 376.4 647.8 377.8 C650.5 379.2 651.6 380.6 654.4 382.7 C657.1 384.8 661.0 387.5 664.3 390.1 C667.6 392.7 670.8 396.3 674.1 398.4 C677.4 400.5 680.7 401.1 684.0 402.5 C687.3 403.9 690.9 405.2 693.9 406.6 C696.9 408.0 699.9 408.9 702.1 410.7 C704.3 412.5 705.4 415.5 707.0 417.3 C708.6 419.1 710.2 420.5 711.5 421.3 C712.8 422.1 710.6 421.8 715.0 421.9 C719.4 422.0 734.2 421.9 738.0 421.9 L738 422.2 L82.6 422.2 L82.6 290.6 Z" fill="#ea2f40" fill-opacity="0.10"/><path d="M738.0 421.9 C738.5 421.5 739.6 420.4 741.2 419.7 C742.8 418.9 745.5 418.5 747.6 417.4 C749.7 416.3 751.9 414.7 754.0 413.1 C756.1 411.5 758.3 409.3 760.4 408.0 C762.5 406.7 764.9 405.8 766.8 405.2 C768.6 404.6 769.2 404.5 771.5 404.1 C773.8 403.7 777.5 403.4 780.4 402.9 C783.2 402.4 786.4 402.0 788.6 400.9 C790.8 399.8 791.7 397.6 793.6 396.0 C795.5 394.4 797.5 392.9 800.2 391.0 C802.9 389.1 806.7 386.6 810.0 384.4 C813.3 382.2 816.9 379.7 819.9 377.8 C822.9 375.9 825.8 374.3 828.1 372.8 C830.5 371.3 831.6 370.8 834.0 369.0 C836.4 367.2 839.7 363.9 842.5 362.0 C845.3 360.1 847.7 359.0 851.0 357.8 C854.3 356.6 859.0 356.2 862.3 355.0 C865.6 353.8 868.7 352.2 870.8 350.7 C872.9 349.2 872.2 346.9 875.0 345.9 C877.8 344.9 881.4 344.9 887.8 344.5 C894.2 344.1 904.6 343.4 913.3 343.2 C922.0 343.0 934.8 343.3 940.0 343.2 C945.2 343.1 943.1 343.2 944.6 342.3 C946.1 341.4 947.6 338.9 949.1 337.9 C950.6 336.9 951.4 336.9 953.7 336.3 C956.0 335.7 960.2 335.1 962.9 334.5 C965.6 333.9 967.8 334.1 969.7 332.4 C971.6 330.7 972.8 327.5 974.3 324.4 C975.8 321.3 977.0 317.6 978.9 313.9 C980.8 310.2 983.0 305.9 985.7 302.1 C988.4 298.3 991.9 294.4 994.9 291.2 C997.9 288.0 1001.0 285.9 1004.0 282.8 C1007.0 279.7 1010.6 275.5 1013.1 272.8 C1015.6 270.1 1017.0 268.9 1018.9 266.9 C1020.8 264.8 1022.9 261.9 1024.6 260.5 C1026.3 259.1 1027.6 258.8 1029.1 258.2 C1030.6 257.6 1031.8 258.3 1033.7 257.2 C1035.6 256.1 1037.9 253.0 1040.6 251.3 C1043.3 249.6 1046.7 248.1 1049.7 247.2 C1052.8 246.2 1056.4 246.3 1058.9 245.6 C1061.4 244.9 1062.3 244.1 1064.6 243.2 C1066.9 242.3 1070.1 241.3 1072.6 240.1 C1075.1 238.8 1077.1 237.2 1079.4 235.7 C1081.7 234.2 1084.2 232.0 1086.2 231.0 C1088.2 230.0 1089.5 230.2 1091.5 229.9 C1093.5 229.6 1096.2 230.1 1097.9 229.3 C1099.6 228.5 1100.1 226.6 1101.5 225.2 C1102.9 223.8 1104.4 221.6 1106.1 220.6 C1107.8 219.6 1108.9 219.5 1111.6 219.2 C1114.3 218.9 1117.6 219.0 1122.5 218.9 C1127.4 218.8 1137.3 219.2 1140.8 218.5 C1144.3 217.8 1142.5 216.5 1143.6 215.0 C1144.7 213.5 1145.7 211.0 1147.2 209.6 C1148.7 208.2 1150.7 207.9 1152.7 206.5 C1154.7 205.1 1157.1 202.7 1159.1 201.3 C1161.1 199.9 1162.8 200.0 1164.6 198.3 C1166.4 196.7 1168.3 193.5 1170.1 191.4 C1171.9 189.3 1173.7 187.2 1175.5 185.9 C1177.3 184.6 1179.5 183.9 1181.0 183.3 C1182.5 182.7 1182.9 183.6 1184.7 182.2 C1186.5 180.8 1189.9 176.9 1192.0 174.9 C1194.1 172.9 1195.7 171.5 1197.5 170.3 C1199.3 169.2 1201.2 168.7 1203.0 168.0 C1204.8 167.3 1206.3 167.5 1208.4 166.4 C1210.5 165.3 1213.7 162.7 1215.8 161.6 C1217.9 160.5 1219.1 160.4 1221.2 159.6 C1223.3 158.8 1226.0 157.8 1228.5 156.8 C1231.0 155.8 1233.8 154.1 1235.9 153.4 C1238.0 152.7 1238.9 153.0 1241.3 152.8 C1243.7 152.6 1248.2 152.4 1250.5 152.2 C1252.8 152.0 1253.4 151.9 1255.0 151.4 C1256.6 150.9 1259.4 149.4 1260.3 149.0 L1261.2 149 L1261.2 422.2 L738 422.2 Z" fill="#32b69c" fill-opacity="0.085"/><path d="M83.6 290.6 C87.5 290.8 97.2 291.5 106.8 291.9 C116.4 292.2 130.1 292.1 141.3 292.7 C152.5 293.3 164.6 294.7 173.9 295.3 C183.2 295.9 185.7 295.9 196.9 296.1 C208.1 296.3 228.8 296.1 241.0 296.5 C253.2 296.9 260.9 297.8 269.8 298.2 C278.8 298.6 286.7 298.6 294.7 299.0 C302.7 299.4 310.5 300.2 317.7 300.7 C324.9 301.2 330.8 301.6 338.0 302.1 C345.2 302.7 356.2 303.4 361.0 304.0 C365.8 304.6 362.7 305.1 366.8 305.7 C370.9 306.3 380.5 307.0 385.9 307.6 C391.3 308.2 394.6 308.4 399.4 309.2 C404.2 309.9 410.2 311.5 414.7 312.1 C419.2 312.7 421.7 312.4 426.2 313.0 C430.7 313.6 437.0 315.2 441.5 315.9 C446.0 316.6 450.1 316.5 453.1 317.2 C456.2 317.9 456.3 319.6 459.8 320.3 C463.3 321.0 470.6 320.8 474.1 321.6 C477.6 322.4 476.4 324.1 480.9 325.1 C485.4 326.1 494.4 326.8 501.0 327.4 C507.6 328.0 515.4 328.3 520.2 328.9 C525.0 329.4 525.7 330.3 529.7 330.7 C533.7 331.1 540.6 330.5 544.1 331.2 C547.6 331.9 547.9 333.8 550.8 335.1 C553.7 336.4 558.5 337.6 561.4 338.9 C564.3 340.2 565.1 341.6 568.1 342.7 C571.1 343.8 577.0 344.9 579.6 345.6 C582.2 346.4 582.0 346.2 584.0 347.2 C586.0 348.2 588.9 350.3 591.9 351.5 C594.9 352.7 598.4 353.7 601.7 354.4 C605.0 355.1 608.3 354.7 611.6 355.6 C614.9 356.5 618.5 357.9 621.5 359.7 C624.5 361.5 627.0 363.8 629.7 366.3 C632.4 368.8 634.9 372.6 637.9 374.5 C640.9 376.4 645.0 376.4 647.8 377.8 C650.5 379.2 651.6 380.6 654.4 382.7 C657.1 384.8 661.0 387.5 664.3 390.1 C667.6 392.7 670.8 396.3 674.1 398.4 C677.4 400.5 680.7 401.1 684.0 402.5 C687.3 403.9 690.9 405.2 693.9 406.6 C696.9 408.0 699.9 408.9 702.1 410.7 C704.3 412.5 705.4 415.5 707.0 417.3 C708.6 419.1 710.2 420.5 711.5 421.3 C712.8 422.1 710.6 421.8 715.0 421.9 C719.4 422.0 734.2 421.9 738.0 421.9" fill="none" stroke="#e4435a" stroke-width="2" stroke-linejoin="round" stroke-linecap="round"/><path d="M738.0 421.9 C738.5 421.5 739.6 420.4 741.2 419.7 C742.8 418.9 745.5 418.5 747.6 417.4 C749.7 416.3 751.9 414.7 754.0 413.1 C756.1 411.5 758.3 409.3 760.4 408.0 C762.5 406.7 764.9 405.8 766.8 405.2 C768.6 404.6 769.2 404.5 771.5 404.1 C773.8 403.7 777.5 403.4 780.4 402.9 C783.2 402.4 786.4 402.0 788.6 400.9 C790.8 399.8 791.7 397.6 793.6 396.0 C795.5 394.4 797.5 392.9 800.2 391.0 C802.9 389.1 806.7 386.6 810.0 384.4 C813.3 382.2 816.9 379.7 819.9 377.8 C822.9 375.9 825.8 374.3 828.1 372.8 C830.5 371.3 831.6 370.8 834.0 369.0 C836.4 367.2 839.7 363.9 842.5 362.0 C845.3 360.1 847.7 359.0 851.0 357.8 C854.3 356.6 859.0 356.2 862.3 355.0 C865.6 353.8 868.7 352.2 870.8 350.7 C872.9 349.2 872.2 346.9 875.0 345.9 C877.8 344.9 881.4 344.9 887.8 344.5 C894.2 344.1 904.6 343.4 913.3 343.2 C922.0 343.0 934.8 343.3 940.0 343.2 C945.2 343.1 943.1 343.2 944.6 342.3 C946.1 341.4 947.6 338.9 949.1 337.9 C950.6 336.9 951.4 336.9 953.7 336.3 C956.0 335.7 960.2 335.1 962.9 334.5 C965.6 333.9 967.8 334.1 969.7 332.4 C971.6 330.7 972.8 327.5 974.3 324.4 C975.8 321.3 977.0 317.6 978.9 313.9 C980.8 310.2 983.0 305.9 985.7 302.1 C988.4 298.3 991.9 294.4 994.9 291.2 C997.9 288.0 1001.0 285.9 1004.0 282.8 C1007.0 279.7 1010.6 275.5 1013.1 272.8 C1015.6 270.1 1017.0 268.9 1018.9 266.9 C1020.8 264.8 1022.9 261.9 1024.6 260.5 C1026.3 259.1 1027.6 258.8 1029.1 258.2 C1030.6 257.6 1031.8 258.3 1033.7 257.2 C1035.6 256.1 1037.9 253.0 1040.6 251.3 C1043.3 249.6 1046.7 248.1 1049.7 247.2 C1052.8 246.2 1056.4 246.3 1058.9 245.6 C1061.4 244.9 1062.3 244.1 1064.6 243.2 C1066.9 242.3 1070.1 241.3 1072.6 240.1 C1075.1 238.8 1077.1 237.2 1079.4 235.7 C1081.7 234.2 1084.2 232.0 1086.2 231.0 C1088.2 230.0 1089.5 230.2 1091.5 229.9 C1093.5 229.6 1096.2 230.1 1097.9 229.3 C1099.6 228.5 1100.1 226.6 1101.5 225.2 C1102.9 223.8 1104.4 221.6 1106.1 220.6 C1107.8 219.6 1108.9 219.5 1111.6 219.2 C1114.3 218.9 1117.6 219.0 1122.5 218.9 C1127.4 218.8 1137.3 219.2 1140.8 218.5 C1144.3 217.8 1142.5 216.5 1143.6 215.0 C1144.7 213.5 1145.7 211.0 1147.2 209.6 C1148.7 208.2 1150.7 207.9 1152.7 206.5 C1154.7 205.1 1157.1 202.7 1159.1 201.3 C1161.1 199.9 1162.8 200.0 1164.6 198.3 C1166.4 196.7 1168.3 193.5 1170.1 191.4 C1171.9 189.3 1173.7 187.2 1175.5 185.9 C1177.3 184.6 1179.5 183.9 1181.0 183.3 C1182.5 182.7 1182.9 183.6 1184.7 182.2 C1186.5 180.8 1189.9 176.9 1192.0 174.9 C1194.1 172.9 1195.7 171.5 1197.5 170.3 C1199.3 169.2 1201.2 168.7 1203.0 168.0 C1204.8 167.3 1206.3 167.5 1208.4 166.4 C1210.5 165.3 1213.7 162.7 1215.8 161.6 C1217.9 160.5 1219.1 160.4 1221.2 159.6 C1223.3 158.8 1226.0 157.8 1228.5 156.8 C1231.0 155.8 1233.8 154.1 1235.9 153.4 C1238.0 152.7 1238.9 153.0 1241.3 152.8 C1243.7 152.6 1248.2 152.4 1250.5 152.2 C1252.8 152.0 1253.4 151.9 1255.0 151.4 C1256.6 150.9 1259.4 149.4 1260.3 149.0" fill="none" stroke="#32b69c" stroke-width="2" stroke-linejoin="round" stroke-linecap="round"/><line x1="738" x2="738" y1="137.6" y2="422.2" stroke="#e23a4e" stroke-width="2.2" stroke-dasharray="8.9 3.3"/><polygon points="738,121.9 743.5,138.2 738,135 732.6,138.2" fill="#ee3a50"/></svg>
<div class="title"><span style="left:-0.5px;transform:scaleX(0.89)">SOL </span><span style="left:40.9px;transform:scaleX(0.917)">Exchange </span><span style="left:130.5px;transform:scaleX(0.96)">Liquidation </span><span style="left:237px;transform:scaleX(1.05)">Map</span></div>
<div class="handle">@TedPillows</div>
<div class="sel" style="left:1038px;width:100px;"><span style="position:absolute;left:12px;transform-origin:0 50%;transform:scaleX(0.86)">SOL</span>
<svg style="position:absolute;left:76.5px;top:16px" width="9" height="5" viewBox="0 0 9 5"><path d="M1 0.5 L8 0.5 L4.5 4 Z" fill="#b4b8c1"/></svg></div>
<div class="sel" style="left:1154px;width:120px;"><span style="position:absolute;left:8px;transform-origin:0 50%;transform:scaleX(0.946)">30&nbsp;day</span>
<svg style="position:absolute;left:99px;top:10px" width="10" height="14" viewBox="0 0 10 14"><path d="M2.5 4.4 L5 1.9 L7.5 4.4 M2.5 9.8 L5 12.3 L7.5 9.8" fill="none" stroke="#a9adb7" stroke-width="1.5" stroke-linecap="round" stroke-linejoin="round"/></svg></div>
<div class="btn"><svg style="position:absolute;left:14.4px;top:9.85px" width="19.2" height="15.36" viewBox="1304 41 20 16">
<g fill="none" stroke="#f1f2f5" stroke-width="1.55" stroke-linecap="round" stroke-linejoin="round">
<path d="M1306.4 43.1 V47.5 H1310.6"/><path d="M1307.2 46.9 A6.6 6.6 0 0 1 1319.6 46.9"/>
<path d="M1321.7 54.9 V50.5 H1317.5"/><path d="M1320.9 51.1 A6.6 6.6 0 0 1 1308.2 51.1"/>
</g></svg></div>
<div class="sq" style="left:359px;background:#2bb59b"></div><div class="lg" style="left:374px">Cumulative Short Liquidation Leverage</div>
<div class="sq" style="left:594px;background:#ec3e50"></div><div class="lg" style="left:609px;letter-spacing:-0.045px">Cumulative Long Liquidation Leverage</div>
<div class="sq" style="left:825.5px;background:#fb8c1a"></div><div class="lg" style="left:840.5px">Binance</div>
<div class="sq" style="left:896.5px;background:#fbc21f"></div><div class="lg" style="left:911.5px">OKX</div>
<div class="sq" style="left:948px;background:#8fd6de"></div><div class="lg" style="left:963px">Bybit</div>
<div class="cp">Current Price:126.1</div>
<div class="yl" style="top:113.6px">57.97M</div><div class="yl" style="top:156.6px">50.00M</div><div class="yl" style="top:207.6px">40.00M</div><div class="yl" style="top:259.6px">30.00M</div><div class="yl" style="top:310.6px">20.00M</div><div class="yl" style="top:362.6px">10.00M</div><div class="yl" style="top:413.6px">12.16K</div><div class="yr" style="top:113.6px">1.11B</div><div class="yr" style="top:144.6px">1.00B</div><div class="yr" style="top:199.6px">800.00M</div><div class="yr" style="top:252.6px">600.00M</div><div class="yr" style="top:306.6px">400.00M</div><div class="yr" style="top:360.6px">200.00M</div><div class="yr" style="top:413.6px">0</div>
<div class="slider"></div>
<div class="xl" style="left:53.3px">104</div><div class="xl" style="left:91.1px">105.2</div><div class="xl" style="left:128.8px">106.4</div><div class="xl" style="left:166.6px">107.8</div><div class="xl" style="left:204.4px">109</div><div class="xl" style="left:242.2px">110.4</div><div class="xl" style="left:279.9px">111.6</div><div class="xl" style="left:317.7px">112.8</div><div class="xl" style="left:355.5px">114</div><div class="xl" style="left:393.2px">115.2</div><div class="xl" style="left:431.0px">116.4</div><div class="xl" style="left:468.8px">117.6</div><div class="xl" style="left:506.5px">119</div><div class="xl" style="left:544.3px">120.2</div><div class="xl" style="left:582.1px">121.6</div><div class="xl" style="left:619.9px">122.8</div><div class="xl" style="left:657.6px">124</div><div class="xl" style="left:695.4px">125.4</div><div class="xl" style="left:733.2px">127.2</div><div class="xl" style="left:770.9px">128.6</div><div class="xl" style="left:808.7px">129.8</div><div class="xl" style="left:846.5px">131</div><div class="xl" style="left:884.2px">132.2</div><div class="xl" style="left:922.0px">133.6</div><div class="xl" style="left:959.8px">134.8</div><div class="xl" style="left:997.6px">136</div><div class="xl" style="left:1035.3px">137.2</div><div class="xl" style="left:1073.1px">138.4</div><div class="xl" style="left:1110.9px">139.6</div><div class="xl" style="left:1148.6px">140.8</div><div class="xl" style="left:1186.4px">142</div><div class="xl" style="left:1224.2px">143.2</div>
<div class="hd" style="left:74.5px"><i style="left:5.2px"></i><i style="left:8.2px"></i></div>
<div class="hd" style="left:1256px"><i style="left:5.2px"></i><i style="left:8.2px"></i></div>
<svg style="position:absolute;left:1157px;top:384px" width="26" height="28" viewBox="0 0 26 28"><g fill="rgba(255,255,255,0.75)">
<path d="M12 2.5 C8 -0.5 0.8 3 0.8 9.5 C0.8 14 4.5 15 5.8 17.5 C7 20 7 25.5 9.5 25.5 C12 25.5 12 20 12 16 Z"/>
<path d="M13.6 2.5 C17.6 -0.5 24.4 3 24.4 9.5 C24.4 14 21 15 19.8 17.5 C18.6 20 18.6 25.5 16.1 25.5 C13.6 25.5 13.6 20 13.6 16 Z"/></g></svg>
<div class="wm">coinglass</div>
</body></html>
